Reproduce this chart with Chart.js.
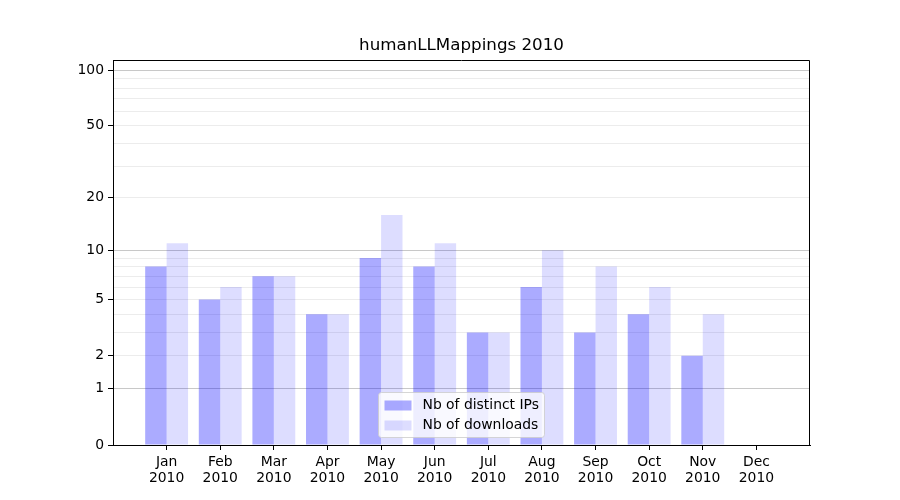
<!DOCTYPE html>
<html>
<head>
<meta charset="utf-8">
<title>humanLLMappings 2010</title>
<script src="https://cdn.jsdelivr.net/npm/chart.js@4"></script>
<style>
  html, body { margin: 0; padding: 0; background: #fff; }
  canvas { display: block; }
</style>
</head>
<body>
<canvas id="ChartCanvas" width="900" height="500"></canvas>
<script>
// Chart data
const months = ['Jan', 'Feb', 'Mar', 'Apr', 'May', 'Jun', 'Jul', 'Aug', 'Sep', 'Oct', 'Nov', 'Dec'];
const year = '2010';
const distinctIPs = [8, 5, 7, 4, 9, 8, 3, 6, 3, 4, 2, 0];
const downloads = [11, 6, 7, 4, 16, 11, 3, 10, 8, 6, 4, 0];
const yTickLabels = [0, 1, 2, 5, 10, 20, 50, 100];
const yGridValues = [0, 1, 2, 3, 4, 5, 6, 7, 8, 9, 10, 20, 30, 40, 50, 60, 70, 80, 90, 100];
const yMajorGrid = [1, 10, 100];
const chartTitle = 'humanLLMappings 2010';

const FONT = 'DejaVu Sans';
const BLUE = 'rgba(0, 0, 255, 0.33)';
const LIGHT = 'rgba(0, 0, 255, 0.133)';

Initialize();

function Initialize()
{
    // y is drawn on a log(1 + v) scale
    const tf = v => Math.log10(v + 1);

    // one blank slot on each side so months sit like the original
    const labels = [''].concat(months.map(m => [m, year]), ['']);
    const pad = arr => [null].concat(arr.map(tf), [null]);

    // title centred on the plot, legend inside the plot, frame on top
    const decorations = {
        id: 'decorations',
        afterDatasetsDraw(chart) {
            const ctx = chart.ctx;
            const area = chart.chartArea;
            const w = 166, h = 45;
            const x = Math.round((area.left + area.right) / 2 - w / 2) - 0.5;
            const y = Math.round(area.bottom - 8 - h) + 0.5;
            ctx.save();
            ctx.beginPath();
            ctx.roundRect(x, y, w, h, 3);
            ctx.fillStyle = 'rgba(255, 255, 255, 0.8)';
            ctx.fill();
            ctx.strokeStyle = 'rgba(204, 204, 204, 0.8)';
            ctx.lineWidth = 1;
            ctx.stroke();
            const items = [
                { text: 'Nb of distinct IPs', color: BLUE },
                { text: 'Nb of downloads', color: LIGHT }
            ];
            ctx.font = '13.9px "' + FONT + '"';
            ctx.textBaseline = 'middle';
            items.forEach((it, i) => {
                const cy = y + 13 + i * 20;
                ctx.fillStyle = it.color;
                ctx.fillRect(x + 6, cy - 5, 27, 10);
                ctx.fillStyle = '#000';
                ctx.fillText(it.text, x + 44, cy);
            });
            ctx.restore();
        },
        afterDraw(chart) {
            const ctx = chart.ctx;
            const a = chart.chartArea;
            ctx.save();
            ctx.strokeStyle = '#000';
            ctx.lineWidth = 1;
            ctx.beginPath();
            const l = Math.round(a.left) + 0.5, t = Math.round(a.top) + 0.5;
            const r = Math.round(a.right) - 0.5, b = Math.round(a.bottom);
            ctx.moveTo(l, t);
            ctx.lineTo(r, t);
            ctx.lineTo(r, b);
            ctx.stroke();
            ctx.fillStyle = '#000';
            ctx.font = '16.7px "' + FONT + '"';
            ctx.textAlign = 'center';
            ctx.textBaseline = 'middle';
            ctx.fillText(chartTitle, (a.left + a.right) / 2, 46);
            ctx.restore();
        }
    };

    const ctx = document.getElementById('ChartCanvas').getContext('2d');
    const chart = new Chart(ctx, {
        type: 'bar',
        data: {
            labels: labels,
            datasets: [{
                label: 'Nb of distinct IPs',
                data: pad(distinctIPs),
                backgroundColor: BLUE,
                borderWidth: 0
            }, {
                label: 'Nb of downloads',
                data: pad(downloads),
                backgroundColor: LIGHT,
                borderWidth: 0
            }]
        },
        options: {
            responsive: false,
            animation: false,
            datasets: {
                bar: { categoryPercentage: 0.8, barPercentage: 1.0 }
            },
            layout: { padding: { left: 0, right: 90, top: 60, bottom: 0 } },
            plugins: {
                legend: { display: false },
                tooltip: { enabled: false },
                title: { display: false }
            },
            scales: {
                x: {
                    offset: false,
                    grid: {
                        offset: false,
                        drawOnChartArea: false,
                        tickLength: 5,
                        tickColor: c => (c.index === 0 || c.index === labels.length - 1) ? 'rgba(0,0,0,0)' : '#000'
                    },
                    border: { color: '#000', width: 1 },
                    ticks: {
                        color: '#000',
                        padding: 4,
                        autoSkip: false,
                        maxRotation: 0,
                        font: { family: FONT, size: 13.9, lineHeight: 1.15 }
                    },
                    afterFit(scale) { scale.height = 55; }
                },
                y: {
                    min: 0,
                    max: 2.0594,
                    afterBuildTicks(scale) {
                        scale.ticks = yGridValues.map(v => ({ value: tf(v) }));
                    },
                    grid: {
                        tickLength: 5,
                        color: c => {
                            const v = yGridValues[c.index];
                            if (v === 0) return 'rgba(0,0,0,0)';
                            return yMajorGrid.includes(v) ? '#c8c8c8' : '#ececec';
                        },
                        tickColor: c => yTickLabels.includes(yGridValues[c.index]) ? '#000' : 'rgba(0,0,0,0)'
                    },
                    border: { color: '#000', width: 1 },
                    ticks: {
                        color: '#000',
                        padding: 4,
                        autoSkip: false,
                        font: { family: FONT, size: 13.9 },
                        callback: (value, index) => {
                            const v = yGridValues[index];
                            return yTickLabels.includes(v) ? String(v) : '';
                        }
                    },
                    afterFit(scale) { scale.width = 113; }
                }
            }
        },
        plugins: [decorations]
    });
}
</script>
</body>
</html>
